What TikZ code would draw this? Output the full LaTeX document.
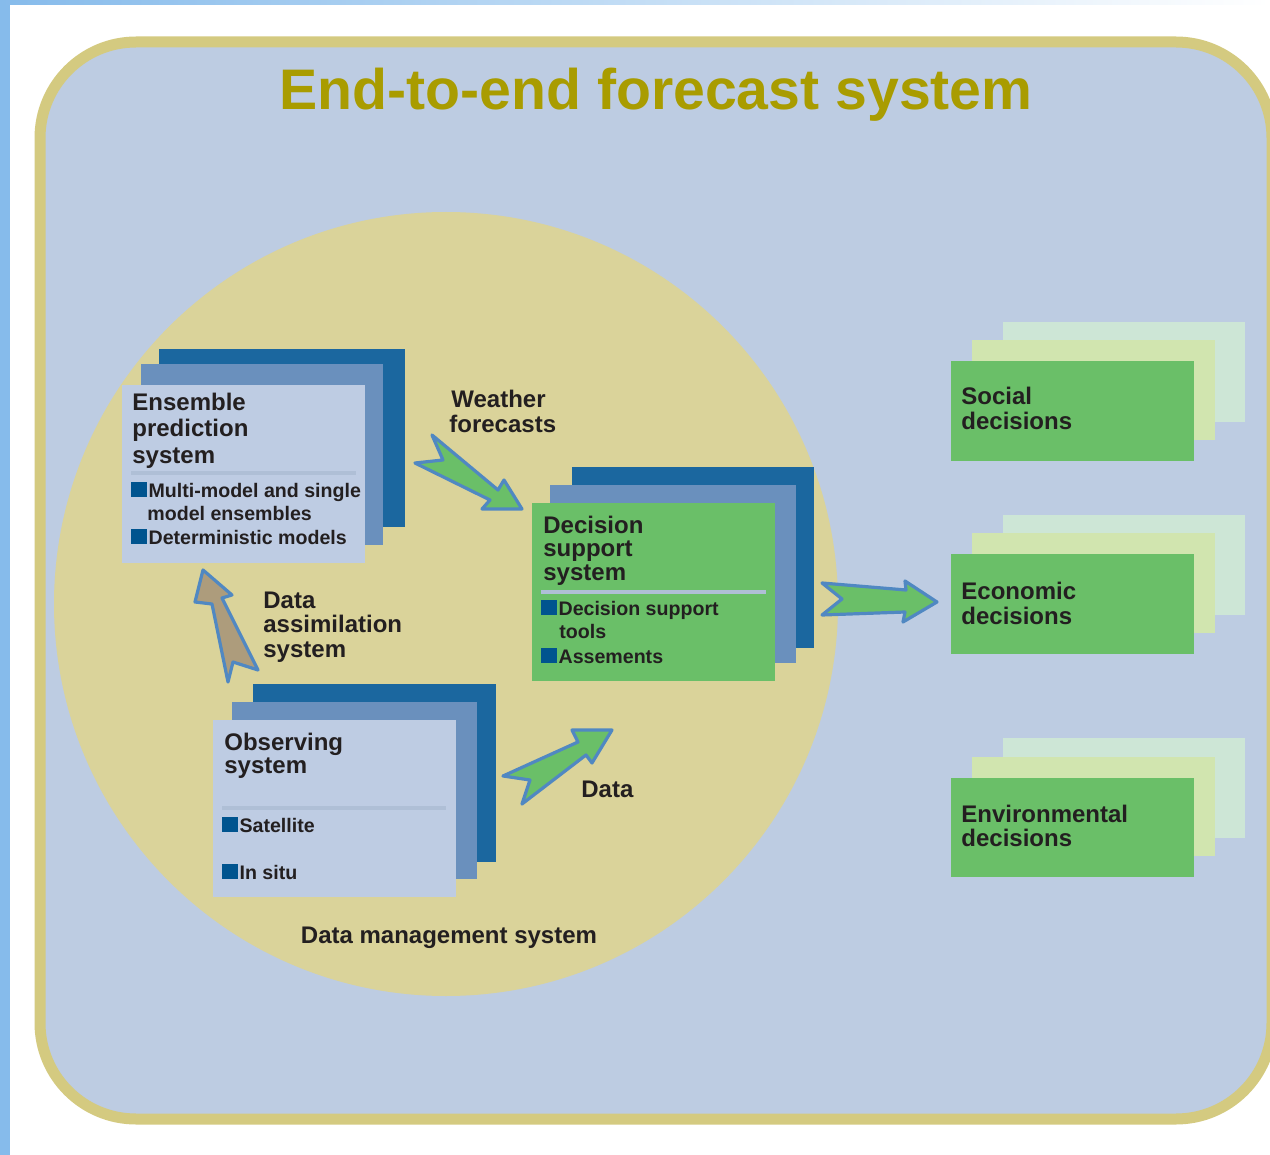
\documentclass[tikz,border=0pt]{standalone}
\usepackage{fontspec}
\setmainfont{Liberation Sans}
\usetikzlibrary{fit}
\definecolor{strip}{HTML}{86BBEB}
\definecolor{panelbg}{HTML}{BDCCE2}
\definecolor{panelrim}{HTML}{D4CA80}
\definecolor{core}{HTML}{DAD39A}
\definecolor{titlecol}{HTML}{A99C00}
\definecolor{darkblue}{HTML}{1B679F}
\definecolor{midblue}{HTML}{6A90BD}
\definecolor{paleblue}{HTML}{BECCE3}
\definecolor{boxgreen}{HTML}{6ABF68}
\definecolor{lightgreen}{HTML}{D1E5AF}
\definecolor{palegreen}{HTML}{CDE6D6}
\definecolor{arrowblue}{HTML}{5088C2}
\definecolor{tanfill}{HTML}{AD9C7C}
\definecolor{bullet}{HTML}{00548F}
\definecolor{txt}{HTML}{231F20}
\definecolor{sepline}{HTML}{AFBFD6}
\newcommand\vl[2]{\vtop{\baselineskip=#1\lineskiplimit=-20pt\relax #2}}
\newcommand\bsq{\textcolor{bullet}{\rule{8pt}{7.5pt}}\hspace{0.6pt}}
\newcommand\panel[6]{\node[fill=#6, inner sep=0pt, draw=none, fit={(#2,#3) (#4,#5)}] (#1) {};}
\tikzset{
  lbl/.style={inner sep=0pt, anchor=base west, text=txt, font={\fontsize{12pt}{13pt}\selectfont\bfseries}},
  bul/.style={inner sep=0pt, anchor=base west, text=txt, font={\fontsize{9.8pt}{12pt}\selectfont\bfseries}},
  blockarrow/.style={draw=arrowblue, line width=1.6pt, line join=round},
  sep/.style={draw=sepline, line width=2pt},
}
\begin{document}
\begin{tikzpicture}[x=0.5pt, y=-0.5pt]
\useasboundingbox (0,0) rectangle (1270,1155);
\clip (0,0) rectangle (1270,1155);
\fill[white] (0,0) rectangle (1270,1155);
\fill[strip] (0,0) rectangle (10,1155);
\shade[left color=strip, right color=white] (0,0) rectangle (1270,5);
% outer panel
\draw[panelrim, fill=panelbg, line width=5.5pt, rounded corners=48pt] (40,42) rectangle (1272,1119);
% data management circle
\node[circle, fill=core, inner sep=0pt, minimum size=392pt] (dms) at (446,604) {};
% title
\node[anchor=base, inner sep=0pt, text=titlecol, font={\fontsize{28.6pt}{30pt}\selectfont\bfseries}] (title) at (656,110) {End-to-end forecast system};

% ensemble prediction stack
\panel{ensBack}{159}{349}{405}{527}{darkblue}
\panel{ensMid}{141}{364}{383}{545}{midblue}
\panel{ensFront}{122}{385}{365}{563}{paleblue}
% decision support stack
\panel{dssBack}{572}{467}{814}{648}{darkblue}
\panel{dssMid}{550}{485}{796}{663}{midblue}
\panel{dssFront}{532}{503}{775}{681}{boxgreen}
% observing stack
\panel{obsBack}{253}{684}{496}{862}{darkblue}
\panel{obsMid}{232}{702}{477}{879}{midblue}
\panel{obsFront}{213}{720}{456}{897}{paleblue}
% decisions
\panel{socBack}{1003}{322}{1245}{422}{palegreen}
\panel{socMid}{972}{340}{1215}{440}{lightgreen}
\panel{socFront}{951}{361}{1194}{461}{boxgreen}
\panel{ecoBack}{1003}{515}{1245}{615}{palegreen}
\panel{ecoMid}{972}{533}{1215}{633}{lightgreen}
\panel{ecoFront}{951}{554}{1194}{654}{boxgreen}
\panel{envBack}{1003}{738}{1245}{838}{palegreen}
\panel{envMid}{972}{757}{1215}{856}{lightgreen}
\panel{envFront}{951}{778}{1194}{877}{boxgreen}

% block arrows
\filldraw[blockarrow, fill=boxgreen] (432,435) -- (443,460) -- (415,463) -- (490,500) -- (482,509) -- (522,509) -- (504,480) -- (498,490) -- cycle;
\filldraw[blockarrow, fill=tanfill] (203,570) -- (232,595) -- (222,598) -- (258,670) -- (233,662) -- (228,682) -- (212,604) -- (195,602) -- cycle;
\filldraw[blockarrow, fill=boxgreen] (822,583) -- (906,590) -- (905,581) -- (937,602) -- (903,622) -- (905,612) -- (822,615) -- (842,599) -- cycle;
\filldraw[blockarrow, fill=boxgreen] (503,776) -- (578,742) -- (572,730) -- (612,730) -- (592,763) -- (586,755) -- (522,804) -- (530,780) -- cycle;

% ensemble texts
\node[lbl] (ensT) at (132,411) {\vl{13pt}{\hbox{Ensemble}\hbox{prediction}\hbox{system}}};
\draw[sep] (131,472.5) -- (356,472.5);
\node[bul] (ensB1) at (131,497) {\vl{11.75pt}{\hbox{\bsq Multi-model and single}\hbox{\hspace{8pt}model ensembles}}};
\node[bul] (ensB2) at (131,544) {\bsq Deterministic models};
% decision texts
\node[lbl] (dssT) at (543,533) {\vl{11.75pt}{\hbox{Decision}\hbox{support}\hbox{system}}};
\draw[sep] (541,591.5) -- (766,591.5);
\node[bul] (dssB1) at (541,615) {\vl{11.75pt}{\hbox{\bsq Decision support}\hbox{\hspace{9pt}tools}}};
\node[bul] (dssB2) at (541,663) {\bsq Assements};
% observing texts
\node[lbl] (obsT) at (224,750) {\vl{11.5pt}{\hbox{Observing}\hbox{system}}};
\draw[sep] (222,807.5) -- (446,807.5);
\node[bul] (obsB1) at (222,832) {\bsq Satellite};
\node[bul] (obsB2) at (222,879) {\bsq In situ};
% arrow labels
\node[lbl] (wfL) at (449,408) {\vl{12.5pt}{\hbox{\hspace{1pt}Weather}\hbox{forecasts}}};
\node[lbl] (daL) at (263,608) {\vl{12.25pt}{\hbox{Data}\hbox{assimilation}\hbox{system}}};
\node[lbl] (dataL) at (581,797) {Data};
\node[lbl, anchor=base] (dmsL) at (449,943) {Data management system};
% decision labels
\node[lbl] (socT) at (961,405) {\vl{12.5pt}{\hbox{Social}\hbox{decisions}}};
\node[lbl] (ecoT) at (961,599) {\vl{12.5pt}{\hbox{Economic}\hbox{decisions}}};
\node[lbl] (envT) at (961,822) {\vl{12pt}{\hbox{Environmental}\hbox{decisions}}};
\end{tikzpicture}
\end{document}
